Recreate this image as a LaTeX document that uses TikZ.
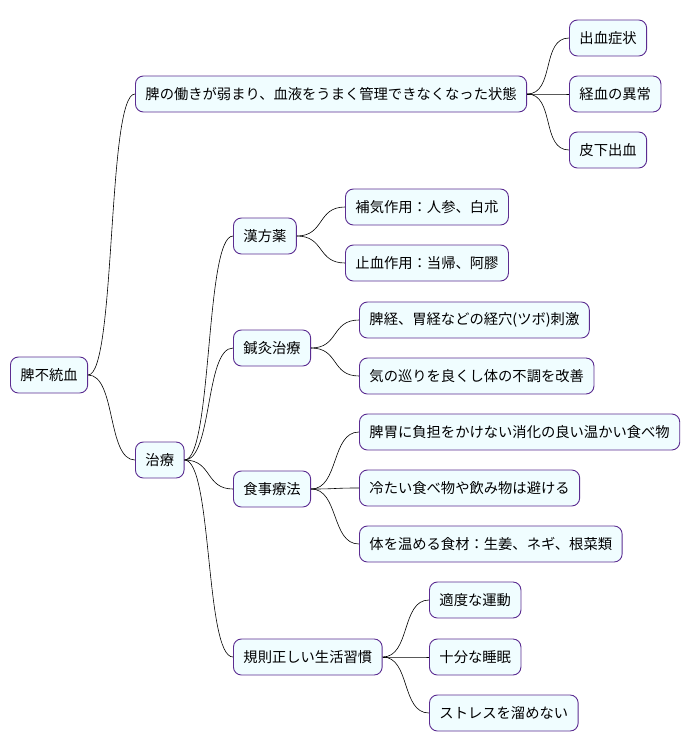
\documentclass[tikz,border=0pt]{standalone}
\usepackage{fontspec}
\setmainfont{Noto Sans CJK JP}
\usetikzlibrary{positioning}
\definecolor{boxfill}{HTML}{F0FDFF}
\definecolor{boxline}{HTML}{5B2C91}
\tikzset{
  box/.style = {rectangle, rounded corners = 8pt, minimum height = 36pt,
    inner xsep = 10pt, draw = boxline, fill = boxfill, line width = 0.9pt,
    font = \fontsize{14.3}{16}\selectfont, anchor = west},
  link/.style = {draw = black, line width = 0.6pt}
}
\newcommand{\branch}[2]{\draw [link] (#1.east) .. controls +(28pt, 0) and +(-28pt, 0) .. (#2.west);}
\begin{document}
\begin{tikzpicture}[x = 1pt, y = -1pt]
  \useasboundingbox (0, 0) rectangle (684, 752);
  % root
  \node [box] (root) at (10, 375) {脾不統血};
  % state
  \node [box] (state) at (135, 94) {脾の働きが弱まり、血液をうまく管理できなくなった状態};
  \node [box] (st-a) at (569, 38) {出血症状};
  \node [box] (st-b) at (569, 94) {経血の異常};
  \node [box] (st-c) at (569, 150) {皮下出血};
  % treatment
  \node [box] (cure) at (135, 460) {治療};
  \node [box] (herb) at (233, 236) {漢方薬};
  \node [box] (herb-a) at (345, 207) {補気作用：人参、白朮};
  \node [box] (herb-b) at (345, 263) {止血作用：当帰、阿膠};
  \node [box] (acu) at (233, 348) {鍼灸治療};
  \node [box] (acu-a) at (359, 320) {脾経、胃経などの経穴(ツボ)刺激};
  \node [box] (acu-b) at (359, 376) {気の巡りを良くし体の不調を改善};
  \node [box] (diet) at (233, 489) {食事療法};
  \node [box] (diet-a) at (359, 432) {脾胃に負担をかけない消化の良い温かい食べ物};
  \node [box] (diet-b) at (359, 488) {冷たい食べ物や飲み物は避ける};
  \node [box] (diet-c) at (359, 544) {体を温める食材：生姜、ネギ、根菜類};
  \node [box] (life) at (233, 657) {規則正しい生活習慣};
  \node [box] (life-a) at (429, 600) {適度な運動};
  \node [box] (life-b) at (429, 657) {十分な睡眠};
  \node [box] (life-c) at (429, 713) {ストレスを溜めない};

  \branch{root}{state}
  \branch{root}{cure}
  \foreach \c in {st-a, st-b, st-c} {\branch{state}{\c}}
  \foreach \c in {herb, acu, diet, life} {\branch{cure}{\c}}
  \foreach \c in {herb-a, herb-b} {\branch{herb}{\c}}
  \foreach \c in {acu-a, acu-b} {\branch{acu}{\c}}
  \foreach \c in {diet-a, diet-b, diet-c} {\branch{diet}{\c}}
  \foreach \c in {life-a, life-b, life-c} {\branch{life}{\c}}
\end{tikzpicture}
\end{document}
